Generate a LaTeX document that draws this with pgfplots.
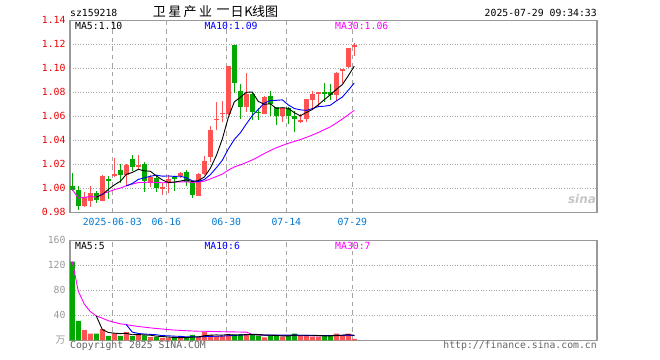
\documentclass[border=0pt]{standalone}
\usepackage{fontspec}
\usepackage{pgfplots}
\usepackage{pgfplotstable}
\pgfplotsset{compat=1.18}
\setmonofont{DejaVu Sans Mono}
\setsansfont{DejaVu Sans}
\newfontfamily\cjk{Noto Sans CJK SC}
\definecolor{cr}{RGB}{255,82,82}
\definecolor{cg}{RGB}{0,168,0}
\definecolor{mab}{RGB}{0,0,255}
\definecolor{mam}{RGB}{255,0,255}
\definecolor{datec}{RGB}{0,120,210}
\definecolor{tickred}{RGB}{240,0,0}
\definecolor{framec}{RGB}{153,153,153}
\definecolor{gridc}{RGB}{165,165,165}
\definecolor{txtg}{RGB}{100,100,100}
\newcommand\mf{\fontsize{9.8bp}{11bp}\selectfont\ttfamily}
\newcommand\tf{\fontsize{13bp}{14bp}\selectfont\cjk}

\pgfplotstableread{
i o h l c v
2 0.985 0.997 0.984 0.993 16.5
3 0.989 1.002 0.984 0.996 10.5
5 0.989 1.011 0.989 1.010 18
7 1.010 1.025 1.009 1.012 11
9 1.011 1.020 1.003 1.019 13
11 1.018 1.028 1.015 1.019 8.5
13 1.004 1.011 1.001 1.009 5
15 1.000 1.004 0.994 1.001 4
16 1.004 1.011 0.996 1.008 4
18 1.010 1.014 1.009 1.013 4
21 0.994 1.013 0.994 1.012 5
22 1.012 1.027 1.011 1.023 14
23 1.026 1.052 1.022 1.049 8.5
24 1.057 1.072 1.049 1.058 7
25 1.062 1.073 1.055 1.063 7
26 1.062 1.102 1.061 1.102 9.6
29 1.068 1.096 1.064 1.079 9.6
32 1.062 1.077 1.062 1.076 4.8
35 1.060 1.067 1.055 1.067 5.9
38 1.056 1.062 1.054 1.057 8
39 1.058 1.074 1.055 1.074 8
40 1.074 1.081 1.067 1.079 5.9
41 1.079 1.080 1.068 1.080 5.9
44 1.078 1.097 1.073 1.096 10.6
45 1.098 1.099 1.088 1.099 8
46 1.101 1.117 1.100 1.117 10.6
47 1.118 1.121 1.110 1.119 2.1
}\redtab

\pgfplotstableread{
i o h l c v
0 1.002 1.013 0.998 0.999 126
1 0.999 1.002 0.982 0.985 31
4 0.996 0.998 0.988 0.990 10.5
6 1.008 1.010 0.991 1.006 7
8 1.015 1.020 1.004 1.011 7
10 1.024 1.028 1.014 1.018 6.5
12 1.020 1.022 0.997 1.006 8
14 1.009 1.011 0.997 1.000 5
17 1.009 1.010 0.998 1.008 4.5
19 1.014 1.015 1.002 1.005 5
20 1.005 1.006 0.992 0.994 8.5
27 1.119 1.119 1.079 1.088 9.6
28 1.081 1.087 1.058 1.068 9.6
30 1.079 1.080 1.057 1.064 9.6
31 1.064 1.067 1.057 1.063 8
33 1.077 1.081 1.060 1.070 8.5
34 1.068 1.068 1.053 1.060 8
36 1.067 1.068 1.054 1.060 8
37 1.060 1.064 1.047 1.058 10.6
42 1.080 1.088 1.072 1.079 8
43 1.080 1.087 1.074 1.078 8
}\greentab

\pgfplotstableread{
i ma5 ma10 ma30 vma5 vma10 vma30
0 nan nan 0.9990 nan nan 126.0
1 nan nan 0.9920 nan nan 78.5
2 nan nan 0.9923 nan nan 57.8
3 nan nan 0.9933 nan nan 46.0
4 0.9926 nan 0.9926 38.9 nan 38.9
5 0.9948 nan 0.9955 17.3 nan 35.4
6 0.9990 nan 0.9970 12.5 nan 31.4
7 1.0028 nan 0.9989 11.4 nan 28.8
8 1.0058 nan 1.0002 10.7 nan 26.4
9 1.0116 1.0021 1.0021 11.2 25.1 25.1
10 1.0132 1.0040 1.0035 8.9 13.1 23.4
11 1.0158 1.0074 1.0048 9.2 10.9 22.1
12 1.0146 1.0087 1.0049 8.6 10.0 21.0
13 1.0142 1.0100 1.0052 8.2 9.5 19.9
14 1.0104 1.0110 1.0049 6.6 8.9 18.9
15 1.0070 1.0101 1.0046 6.1 7.5 18.0
16 1.0048 1.0103 1.0048 5.2 7.2 17.1
17 1.0052 1.0099 1.0050 4.5 6.6 16.4
18 1.0060 1.0101 1.0054 4.3 6.3 15.8
19 1.0070 1.0087 1.0054 4.3 5.5 15.3
20 1.0056 1.0063 1.0049 5.2 5.7 14.9
21 1.0064 1.0056 1.0052 5.4 5.3 14.5
22 1.0094 1.0073 1.0060 7.3 5.9 14.5
23 1.0166 1.0113 1.0078 8.2 6.3 14.2
24 1.0272 1.0171 1.0098 8.6 6.5 13.9
25 1.0410 1.0233 1.0118 8.3 6.8 13.7
26 1.0590 1.0327 1.0151 9.2 7.3 13.5
27 1.0720 1.0407 1.0178 8.3 7.8 13.4
28 1.0758 1.0462 1.0195 8.6 8.4 13.2
29 1.0800 1.0536 1.0215 9.1 8.8 13.1
30 1.0802 1.0606 1.0236 9.6 9.0 9.2
31 1.0724 1.0657 1.0262 9.3 9.3 8.5
32 1.0700 1.0710 1.0290 8.3 8.3 8.1
33 1.0704 1.0731 1.0315 8.1 8.3 8.0
34 1.0666 1.0733 1.0338 7.8 8.4 7.9
35 1.0672 1.0737 1.0357 7.0 8.3 7.5
36 1.0666 1.0695 1.0375 7.0 8.2 7.6
37 1.0630 1.0665 1.0390 8.2 8.3 7.5
38 1.0604 1.0654 1.0406 8.1 8.1 7.6
39 1.0632 1.0649 1.0424 8.1 7.9 7.4
40 1.0656 1.0664 1.0444 8.1 7.6 7.4
41 1.0696 1.0681 1.0465 7.7 7.4 7.3
42 1.0738 1.0684 1.0489 7.2 7.7 7.3
43 1.0780 1.0692 1.0512 7.2 7.6 7.4
44 1.0824 1.0728 1.0544 7.7 7.9 7.6
45 1.0864 1.0760 1.0577 8.1 8.1 7.7
46 1.0938 1.0817 1.0613 9.0 8.4 7.9
47 1.1018 1.0878 1.0650 7.9 7.5 7.9
}\matab

\pgfplotsset{
  kbase/.style={
    anchor=south west, scale only axis, width=527bp,
    xmin=-0.383, xmax=87.45,
    axis line style={draw=framec, line width=1.1bp},
    xtick={6.67,15.67,25.67,35.67,46.67},
    major tick length=0pt,
    xmajorgrids, ymajorgrids,
    x grid style={draw=gridc, line width=1.3bp, dash pattern=on 4.5bp off 4bp},
    y grid style={draw=gridc, line width=0.8bp, dash pattern=on 1bp off 1.6bp},
    yticklabel style={font=\mf, anchor=east, inner sep=0pt, xshift=-4.3bp},
  },
  wick/.style={only marks, mark=none, mark size=0pt, mark options={draw=none, fill=none}, forget plot,
    error bars/.cd, y dir=both, y explicit, error mark=none,
    error bar style={draw=#1, line width=1bp}},
  body/.style={only marks, mark=none, mark size=0pt, mark options={draw=none, fill=none}, forget plot,
    error bars/.cd, y dir=both, y explicit, error mark=none,
    error bar style={draw=#1, line width=4.5bp}},
}

\begin{document}
\begin{tikzpicture}
\useasboundingbox (0,0) rectangle (660bp,360bp);

\begin{axis}[kbase,
  at={(70bp,147.7bp)}, height=192bp,
  ymin=0.98, ymax=1.14,
  ytick={0.98,1.00,1.02,1.04,1.06,1.08,1.10,1.12,1.14},
  yticklabels={0.98,1.00,1.02,1.04,1.06,1.08,1.10,1.12,1.14},
  xticklabels={2025-06-03,06-16,06-30,07-14,07-29},
  xticklabel style={font=\mf, text=datec, anchor=center, inner sep=0pt, yshift=-9.4bp},
  yticklabel style={text=tickred},
]
\addplot[wick=cr] table[x=i, y expr={(\thisrow{h}+\thisrow{l})/2}, y error expr={(\thisrow{h}-\thisrow{l})/2}] {\redtab};
\addplot[body=cr] table[x=i, y expr={(\thisrow{o}+\thisrow{c})/2}, y error expr={abs(\thisrow{c}-\thisrow{o})/2}] {\redtab};
\addplot[wick=cg] table[x=i, y expr={(\thisrow{h}+\thisrow{l})/2}, y error expr={(\thisrow{h}-\thisrow{l})/2}] {\greentab};
\addplot[body=cg] table[x=i, y expr={(\thisrow{o}+\thisrow{c})/2}, y error expr={abs(\thisrow{c}-\thisrow{o})/2}] {\greentab};
\addplot[mam, line width=0.9bp, unbounded coords=jump] table[x=i, y=ma30] {\matab};
\addplot[mab, line width=0.9bp, unbounded coords=jump] table[x=i, y=ma10] {\matab};
\addplot[black, line width=0.9bp, unbounded coords=jump] table[x=i, y=ma5] {\matab};
\end{axis}

\begin{axis}[kbase,
  at={(70bp,19.7bp)}, height=100bp,
  ymin=0, ymax=160,
  ytick={0,40,80,120,160},
  yticklabels={{\cjk 万},40,80,120,160},
  xticklabels={},
  yticklabel style={text=gray!80},
]
\addplot[ybar, bar width=5bp, bar shift=0pt, fill=cr, draw=none] table[x=i, y=v] {\redtab};
\addplot[ybar, bar width=5bp, bar shift=0pt, fill=cg, draw=none] table[x=i, y=v] {\greentab};
\addplot[mam, line width=0.9bp, unbounded coords=jump] table[x=i, y=vma30] {\matab};
\addplot[mab, line width=0.9bp, unbounded coords=jump] table[x=i, y=vma10] {\matab};
\addplot[black, line width=0.9bp, unbounded coords=jump] table[x=i, y=vma5] {\matab};
\end{axis}

% header texts
\node[anchor=west, inner sep=0pt, font=\mf] at (70bp,346.7bp) {sz159218};
\node[inner sep=0pt, font=\tf] at (159.4bp,348.3bp) {卫};
\node[inner sep=0pt, font=\tf] at (174.8bp,348.3bp) {星};
\node[inner sep=0pt, font=\tf] at (190.2bp,348.3bp) {产};
\node[inner sep=0pt, font=\tf] at (205.6bp,348.3bp) {业};
\node[inner sep=0pt, font=\tf] at (223bp,348.3bp) {一};
\node[inner sep=0pt, font=\tf] at (237bp,348.3bp) {日};
\node[inner sep=0pt, font=\tf] at (248.5bp,348.3bp) {K};
\node[inner sep=0pt, font=\tf] at (258.5bp,348.3bp) {线};
\node[inner sep=0pt, font=\tf] at (271.5bp,348.3bp) {图};
\node[anchor=east, inner sep=0pt, font=\mf] at (597bp,346.7bp) {2025-07-29 09:34:33};

\node[anchor=west, inner sep=0pt, font=\mf] at (75bp,334.3bp) {MA5:1.10};
\node[anchor=west, inner sep=0pt, font=\mf, text=mab] at (204.3bp,334.3bp) {MA10:1.09};
\node[anchor=west, inner sep=0pt, font=\mf, text=mam] at (335bp,334.3bp) {MA30:1.06};

\node[anchor=west, inner sep=0pt, font=\mf] at (75bp,114bp) {MA5:5};
\node[anchor=west, inner sep=0pt, font=\mf, text=mab] at (204.3bp,114bp) {MA10:6};
\node[anchor=west, inner sep=0pt, font=\mf, text=mam] at (335bp,114bp) {MA30:7};

\node[anchor=west, inner sep=0pt, font=\mf, text=txtg] at (70bp,13.8bp) {Copyright 2025 SINA.COM};
\node[anchor=east, inner sep=0pt, font=\mf, text=txtg] at (597bp,13.8bp) {http://finance.sina.com.cn};

\node[inner sep=0pt, text=gray!45, font=\fontsize{12bp}{12bp}\selectfont\sffamily\bfseries\itshape] at (582bp,161bp) {sina};
\end{tikzpicture}
\end{document}
